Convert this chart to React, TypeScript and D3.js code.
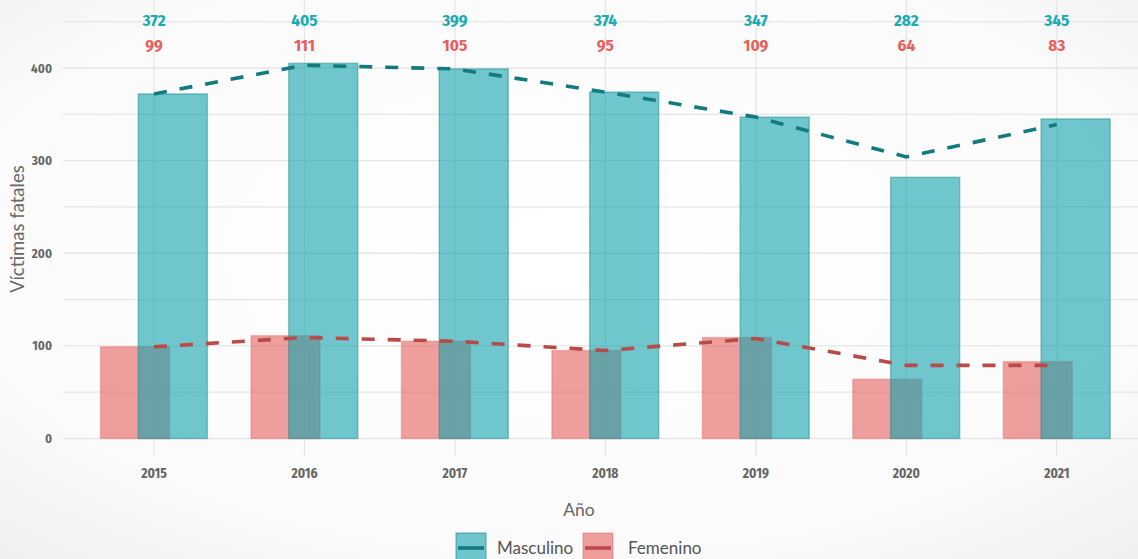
import React from "react";
import * as d3 from "d3";

const years = [2015, 2016, 2017, 2018, 2019, 2020, 2021];
const masculino = [372, 405, 399, 374, 347, 282, 345];
const femenino = [99, 111, 105, 95, 109, 64, 83];
const masculinoTrend = [372, 403, 399, 374, 347, 304, 339];
const femeninoTrend = [99, 109, 105, 95, 108, 79, 79];
const yTicks = [0, 100, 200, 300, 400];
const yGrid = [0, 50, 100, 150, 200, 250, 300, 350, 400, 450];

const W = 1138;
const H = 559;
const MASC_FILL = "#11a3ad";
const FEM_FILL = "#e4615d";
const MASC_LINE = "#137a7f";
const FEM_LINE = "#b84a47";
const MASC_TEXT = "#1aacb5";
const FEM_TEXT = "#e8605c";
const COND = "'Fira Sans Condensed','Liberation Sans Narrow','DejaVu Sans Condensed','Roboto Condensed',Roboto,sans-serif";
const LABEL = "Lato,'Open Sans',sans-serif";

export default function App() {
  const x = d3.scaleLinear().domain([2015, 2021]).range([154, 1056.8]);
  const y = d3.scaleLinear().domain([0, 400]).range([438.5, 68]);
  const barW = 69;
  const femOff = -53.5;
  const mascOff = -15.7;

  const line = d3
    .line<number>()
    .x((_, i) => x(years[i]))
    .y((d) => y(d));

  return (
    <svg
      width={W}
      height={H}
      style={{ position: "absolute", left: 0, top: 0, display: "block" }}
    >
      <defs>
        <radialGradient id="bg" cx="50%" cy="45%" r="75%">
          <stop offset="0%" stopColor="#ffffff" />
          <stop offset="70%" stopColor="#fbfbfb" />
          <stop offset="100%" stopColor="#efefef" />
        </radialGradient>
      </defs>
      <rect x={0} y={0} width={W} height={H} fill="url(#bg)" />

      {/* grid */}
      {yGrid.map((t) => (
        <line
          key={"hg" + t}
          x1={63}
          x2={W}
          y1={y(t)}
          y2={y(t)}
          stroke="#e6e6e6"
          strokeWidth={1.3}
        />
      ))}
      {years.map((yr) => (
        <line
          key={"vg" + yr}
          x1={x(yr)}
          x2={x(yr)}
          y1={0}
          y2={456}
          stroke="#e6e6e6"
          strokeWidth={1.3}
        />
      ))}

      {/* bars */}
      {years.map((yr, i) => (
        <rect
          key={"f" + yr}
          x={x(yr) + femOff}
          y={y(femenino[i])}
          width={barW}
          height={y(0) - y(femenino[i])}
          fill={FEM_FILL}
          fillOpacity={0.6}
          stroke={FEM_FILL}
          strokeOpacity={0.35}
          strokeWidth={1.5}
        />
      ))}
      {years.map((yr, i) => (
        <rect
          key={"m" + yr}
          x={x(yr) + mascOff}
          y={y(masculino[i])}
          width={barW}
          height={y(0) - y(masculino[i])}
          fill={MASC_FILL}
          fillOpacity={0.6}
          stroke="#1a8a90"
          strokeOpacity={0.45}
          strokeWidth={1.5}
        />
      ))}

      {/* lines */}
      <path
        d={line(masculinoTrend) || ""}
        fill="none"
        stroke={MASC_LINE}
        strokeWidth={3.6}
        strokeDasharray="13 13"
      />
      <path
        d={line(femeninoTrend) || ""}
        fill="none"
        stroke={FEM_LINE}
        strokeWidth={3.6}
        strokeDasharray="13 13"
      />

      {/* value labels */}
      {years.map((yr, i) => (
        <g key={"lab" + yr} fontFamily={COND} fontWeight="bold" fontSize={17} textAnchor="middle">
          <text x={x(yr)} y={26} fill={MASC_TEXT}>
            {masculino[i]}
          </text>
          <text x={x(yr)} y={51} fill={FEM_TEXT}>
            {femenino[i]}
          </text>
        </g>
      ))}

      {/* y ticks */}
      {yTicks.map((t) => (
        <text
          key={"yt" + t}
          x={52}
          y={y(t) + 4.5}
          textAnchor="end"
          fontFamily={COND}
          fontWeight="bold"
          fontSize={13}
          fill="#666"
        >
          {t}
        </text>
      ))}
      {/* x ticks */}
      {years.map((yr) => (
        <text
          key={"xt" + yr}
          x={x(yr)}
          y={478}
          textAnchor="middle"
          fontFamily={COND}
          fontWeight="bold"
          fontSize={13.5}
          fill="#666"
        >
          {yr}
        </text>
      ))}

      {/* axis titles */}
      <text
        transform="translate(24,229) rotate(-90)"
        textAnchor="middle"
        fontFamily={LABEL}
        fontSize={18.5}
        fill="#666"
      >
        Víctimas fatales
      </text>
      <text x={579} y={516} textAnchor="middle" fontFamily={LABEL} fontSize={17.5} fill="#666">
        Año
      </text>

      {/* legend */}
      <g>
        <rect x={456} y={533} width={30} height={32} fill={MASC_FILL} fillOpacity={0.6} stroke="#1a8a90" strokeOpacity={0.45} strokeWidth={1.5} />
        <line x1={458} x2={484} y1={548} y2={548} stroke={MASC_LINE} strokeWidth={3.6} />
        <text x={497} y={554} fontFamily={LABEL} fontSize={17} fill="#555">
          Masculino
        </text>
        <rect x={583} y={533} width={30} height={32} fill={FEM_FILL} fillOpacity={0.6} stroke={FEM_FILL} strokeOpacity={0.35} strokeWidth={1.5} />
        <line x1={585} x2={611} y1={548} y2={548} stroke={FEM_LINE} strokeWidth={3.6} />
        <text x={628} y={554} fontFamily={LABEL} fontSize={17} fill="#555">
          Femenino
        </text>
      </g>
    </svg>
  );
}
